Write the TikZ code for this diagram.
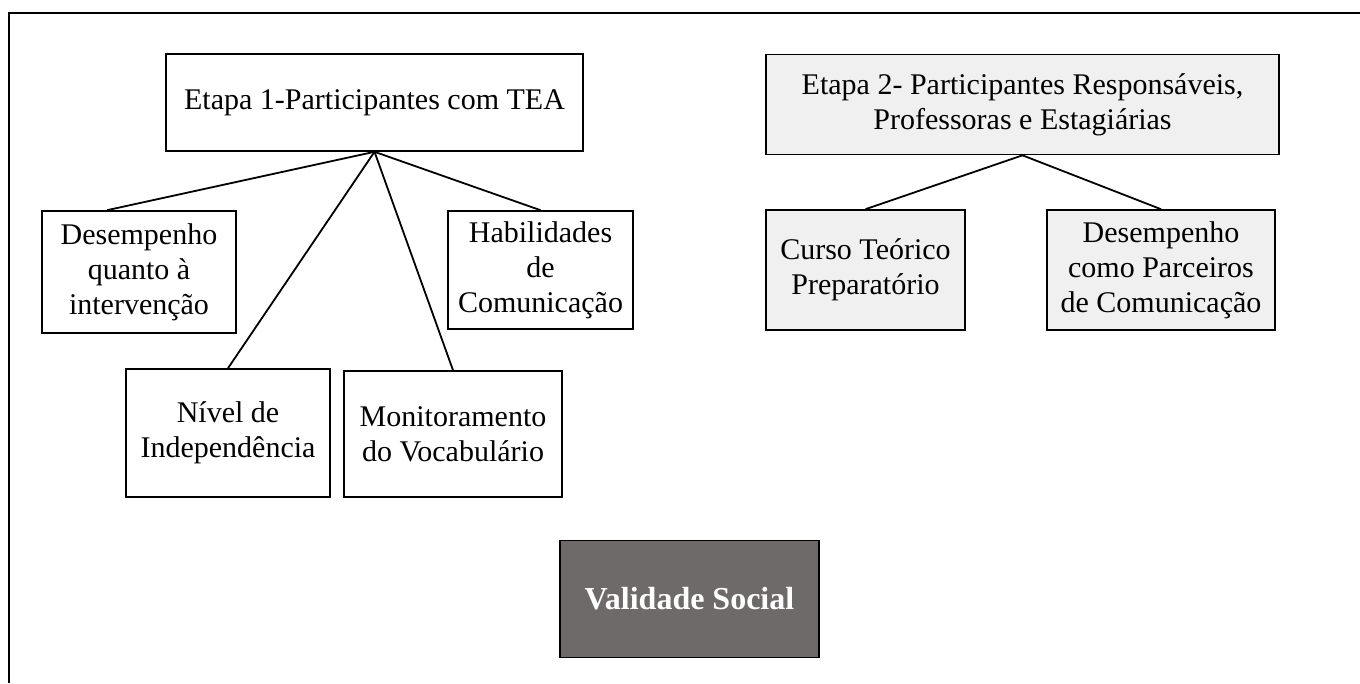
\documentclass[tikz,border=0pt]{standalone}
\usepackage{fontspec}
\setmainfont{Liberation Serif}
\usepackage{tikz}
\usetikzlibrary{positioning}
\definecolor{socialgray}{RGB}{111,106,106}

\begin{document}
\begin{tikzpicture}[x=1pt,y=-1pt]
		\tikzstyle{Box}		= [rectangle, draw, line width=1.6pt, fill=white, align=center, inner sep=0pt, font=\fontsize{30}{35}\selectfont]
		\tikzstyle{Stage}	= [fill=black!6]
		\tikzstyle{Social}	= [fill=socialgray, draw=black, text=white, font=\fontsize{32}{36}\selectfont\bfseries]
		\tikzstyle{Link}	= [line width=1.8pt]

		\useasboundingbox (0,0) rectangle (1360,683);
		\draw [line width=1.8pt] (9,683) -- (9,13) -- (1360,13);

		\node (e1) at (374.5,102.5) [Box, minimum width=417, minimum height=97] {Etapa 1-Participantes com TEA};
		\node (dq) at (139,272) [Box, minimum width=194, minimum height=122] {Desempenho\\quanto à\\intervenção};
		\node (hc) at (540.5,270) [Box, minimum width=185, minimum height=118] {Habilidades\\de\\Comunicação};
		\node (ni) at (228,433) [Box, minimum width=204, minimum height=128] {Nível de\\Independência};
		\node (mv) at (453,434) [Box, minimum width=218, minimum height=126] {Monitoramento\\do Vocabulário};

		\node (e2) at (1022.5,104.5) [Box][Stage, minimum width=513, minimum height=100] {Etapa 2- Participantes Responsáveis,\\Professoras e Estagiárias};
		\node (ct) at (865.5,270) [Box][Stage, minimum width=199, minimum height=120] {Curso Teórico\\Preparatório};
		\node (dp) at (1161,270) [Box][Stage, minimum width=228, minimum height=120] {Desempenho\\como Parceiros\\de Comunicação};

		\node (vs) at (689.5,599) [Box][Social, minimum width=259, minimum height=117] {Validade Social};

		\draw [-] (e1.south) to ([xshift=-32]dq.north) [Link];
		\draw [-] (e1.south) to (ni.north) [Link];
		\draw [-] (e1.south) to (mv.north) [Link];
		\draw [-] (e1.south) to (hc.north) [Link];
		\draw [-] (e2.south) to (ct.north) [Link];
		\draw [-] (e2.south) to (dp.north) [Link];
	\end{tikzpicture}
\end{document}
